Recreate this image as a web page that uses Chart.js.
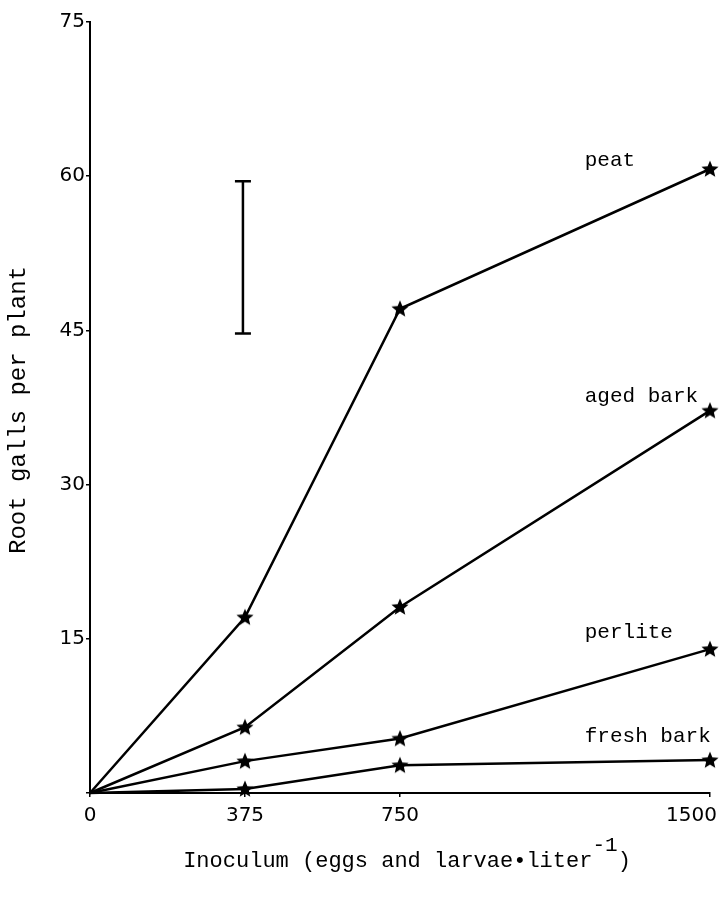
<!DOCTYPE html>
<html>
<head>
<meta charset="utf-8">
<script src="https://cdn.jsdelivr.net/npm/chart.js@4"></script>
<style>
  html, body { margin: 0; padding: 0; background: #fff; }
  #c { display: block; }
</style>
</head>
<body>
<canvas id="c" width="719" height="905"></canvas>
<script>
// ---- data ----
const inoculum = [0, 375, 750, 1500];
const xTickValues = [0, 375, 750, 1500];
const xTickLabels = ['0', '375', '750', '1500'];
const yTickValues = [0, 15, 30, 45, 60, 75];
const peat = [0, 17.1, 47.1, 60.7];
const agedBark = [0, 6.4, 18.1, 37.2];
const perlite = [0, 3.1, 5.3, 14.0];
const freshBark = [0, 0.4, 2.7, 3.2];
const seriesNames = ['peat', 'aged bark', 'perlite', 'fresh bark'];
const errorBarX = 370;
const errorBarRange = [44.7, 59.5];

// filled star marker
function makeStar(size) {
  const c = document.createElement('canvas');
  c.width = size; c.height = size;
  const g = c.getContext('2d');
  const cx = size / 2, cy = size / 2 + 0.5, R = size / 2, r = R * 0.45;
  g.beginPath();
  for (let i = 0; i < 10; i++) {
    const rad = (i % 2 === 0) ? R : r;
    const a = -Math.PI / 2 + i * Math.PI / 5;
    const px = cx + rad * Math.cos(a), py = cy + rad * Math.sin(a);
    if (i === 0) g.moveTo(px, py); else g.lineTo(px, py);
  }
  g.closePath();
  g.fillStyle = '#000';
  g.fill();
  return c;
}
const star = makeStar(18);

function ds(label, values) {
  return {
    label: label,
    data: inoculum.map((x, i) => ({ x: x, y: values[i] })),
    borderColor: '#000',
    borderWidth: 2.5,
    backgroundColor: '#000',
    pointStyle: star,
    pointRadius: values.map((v, i) => i === 0 ? 0 : 6),
    tension: 0,
    clip: false
  };
}

const MONO = '"Liberation Mono", "DejaVu Sans Mono", monospace';

const annotPlugin = {
  id: 'annot',
  afterDatasetsDraw(chart) {
    const ctx = chart.ctx;
    const xs = chart.scales.x, ys = chart.scales.y;
    ctx.save();
    // x tick labels (from the scale positions)
    ctx.fillStyle = '#000';
    ctx.font = '20px "DejaVu Sans", sans-serif';
    ctx.textBaseline = 'middle';
    xTickValues.forEach((v, i) => {
      const px = xs.getPixelForValue(v);
      const last = i === xTickValues.length - 1;
      ctx.textAlign = last ? 'right' : 'center';
      ctx.fillText(xTickLabels[i], last ? px + 7 : px, ys.bottom + 23);
    });

    // error bar
    const ex = xs.getPixelForValue(errorBarX);
    const y1 = ys.getPixelForValue(errorBarRange[0]);
    const y2 = ys.getPixelForValue(errorBarRange[1]);
    ctx.strokeStyle = '#000';
    ctx.lineWidth = 2.5;
    ctx.beginPath();
    ctx.moveTo(ex, y1); ctx.lineTo(ex, y2);
    ctx.moveTo(ex - 8, y1); ctx.lineTo(ex + 8, y1);
    ctx.moveTo(ex - 8, y2); ctx.lineTo(ex + 8, y2);
    ctx.stroke();

    // series labels
    const labelY = [61.5, 38.6, 15.6, 5.5];
    ctx.font = '21px ' + MONO;
    ctx.textAlign = 'left';
    ctx.textBaseline = 'middle';
    const lx = xs.getPixelForValue(1197);
    seriesNames.forEach((n, i) => {
      ctx.fillText(n, lx, ys.getPixelForValue(labelY[i]));
    });

    // y title
    ctx.save();
    ctx.translate(19, 410);
    ctx.rotate(-Math.PI / 2);
    ctx.textAlign = 'center';
    ctx.textBaseline = 'middle';
    ctx.font = '24px ' + MONO;
    ctx.fillText('Root galls per plant', 0, 0);
    ctx.restore();

    // x title with superscript
    const main = 'Inoculum (eggs and larvae\u2022liter';
    const sup = '-1';
    const close = ')';
    ctx.font = '22px ' + MONO;
    const wMain = ctx.measureText(main).width;
    const wClose = ctx.measureText(close).width;
    ctx.font = '21px ' + MONO;
    const wSup = ctx.measureText(sup).width;
    const total = wMain + wSup + wClose;
    let x0 = 407 - total / 2;
    ctx.textAlign = 'left';
    ctx.textBaseline = 'alphabetic';
    ctx.font = '22px ' + MONO;
    ctx.fillText(main, x0, 867);
    ctx.font = '21px ' + MONO;
    ctx.fillText(sup, x0 + wMain, 851);
    ctx.font = '22px ' + MONO;
    ctx.fillText(close, x0 + wMain + wSup, 867);
    ctx.restore();
  }
};

new Chart(document.getElementById('c'), {
  type: 'line',
  data: {
    datasets: [ds(seriesNames[0], peat), ds(seriesNames[1], agedBark), ds(seriesNames[2], perlite), ds(seriesNames[3], freshBark)]
  },
  options: {
    responsive: false,
    animation: false,
    devicePixelRatio: 1,
    layout: { padding: { top: 22, right: 9, left: 0, bottom: 0 } },
    plugins: { legend: { display: false }, tooltip: { enabled: false } },
    scales: {
      x: {
        type: 'linear',
        min: 0, max: 1500,
        afterBuildTicks(scale) { scale.ticks = xTickValues.map(v => ({ value: v })); },
        afterFit(scale) { scale.height = 112; scale.paddingLeft = 0; scale.paddingRight = 0; },
        grid: { display: true, drawOnChartArea: false, drawTicks: true, tickLength: 4, color: '#000', lineWidth: 1.5 },
        border: { display: true, color: '#000', width: 2 },
        ticks: { display: false }
      },
      y: {
        type: 'linear',
        min: 0, max: 75,
        afterBuildTicks(scale) { scale.ticks = yTickValues.map(v => ({ value: v })); },
        afterFit(scale) { scale.width = 90; scale.paddingTop = 0; scale.paddingBottom = 0; },
        grid: { display: true, drawOnChartArea: false, drawTicks: true, tickLength: 4, color: '#000', lineWidth: 1.5 },
        border: { display: true, color: '#000', width: 2 },
        ticks: {
          color: '#000', font: { family: '"DejaVu Sans", sans-serif', size: 20 }, padding: 1, autoSkip: false,
          callback: (v) => v === 0 ? '' : String(v)
        }
      }
    }
  },
  plugins: [annotPlugin]
});
</script>
</body>
</html>
